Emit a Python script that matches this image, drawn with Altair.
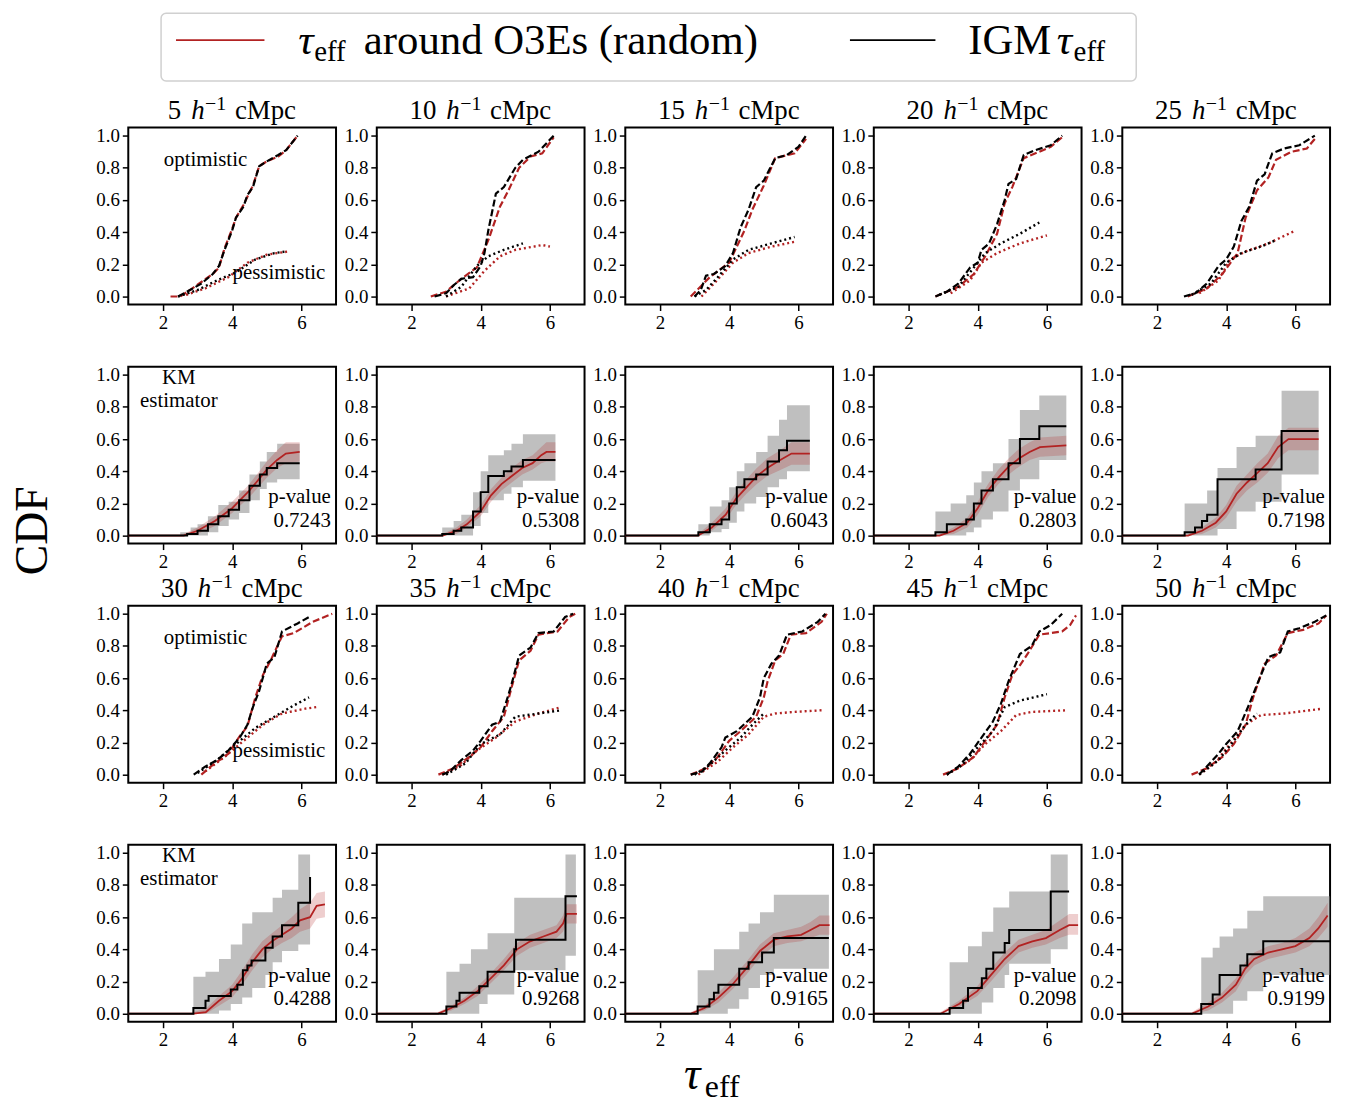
#!/usr/bin/env python3
"""CDFs of tau_eff around O3Es vs the IGM, 10 separations
"""
import altair as alt
import pandas as pd

FONT = 'Liberation Serif'
RED = '#b22222'
OUTPUT_FILE = 'out.html'

ROW_A = [5, 10, 15, 20, 25]
ROW_B = [30, 35, 40, 45, 50]

# optimistic (dashed) and pessimistic (dotted) CDFs, (tau_eff, CDF)
OPT_IGM = {
    5: [(2.44, 0), (2.78, .04), (3.11, .08), (3.44, .14), (3.62, .19), (3.78, .29), (4.0, .41), (4.11, .49),
        (4.33, .56), (4.44, .63), (4.6, .68), (4.78, .81), (5.0, .84), (5.33, .88), (5.56, .91), (5.89, 1.0)],
    10: [(2.67, 0), (3.0, .02), (3.22, .07), (3.44, .11), (3.78, .12), (4.0, .19), (4.11, .27), (4.22, .41),
         (4.44, .64), (4.67, .68), (5.0, .8), (5.22, .85), (5.67, .9), (6.11, 1.0)],
    15: [(3.0, 0), (3.18, .04), (3.33, .13), (3.56, .14), (3.89, .19), (4.11, .27), (4.33, .43), (4.56, .54),
         (4.78, .68), (5.0, .72), (5.33, .86), (5.67, .88), (6.0, .93), (6.22, 1.0)],
    20: [(2.78, 0), (3.11, .03), (3.44, .08), (3.78, .18), (4.0, .21), (4.11, .29), (4.33, .33), (4.56, .45),
         (4.78, .6), (4.89, .7), (5.11, .73), (5.33, .88), (5.67, .91), (6.11, .94), (6.44, 1.0)],
    25: [(2.78, 0), (3.11, .02), (3.44, .08), (3.78, .19), (4.0, .23), (4.22, .31), (4.44, .47), (4.67, .56),
         (4.89, .72), (5.11, .76), (5.33, .89), (5.67, .92), (6.11, .94), (6.56, 1.0)],
    30: [(2.89, 0), (3.22, .05), (3.56, .09), (3.89, .15), (4.22, .23), (4.44, .31), (4.6, .42), (4.78, .52),
         (5.0, .69), (5.22, .73), (5.44, .89), (5.89, .94), (6.22, .98)],
    35: [(2.89, 0), (3.11, .02), (3.44, .09), (3.78, .15), (4.0, .21), (4.33, .31), (4.56, .33), (4.78, .48),
         (4.89, .56), (5.11, .74), (5.44, .79), (5.67, .88), (6.11, .89), (6.44, .98), (6.67, 1.0)],
    40: [(2.89, 0), (3.22, .02), (3.44, .07), (3.78, .17), (3.89, .23), (4.22, .27), (4.67, .36), (4.89, .48),
         (5.0, .6), (5.22, .69), (5.44, .74), (5.67, .87), (6.11, .89), (6.56, .95), (6.78, 1.0)],
    45: [(3.11, 0), (3.44, .05), (3.78, .13), (4.11, .23), (4.44, .33), (4.67, .44), (4.89, .58), (5.22, .75),
         (5.56, .8), (5.78, .89), (6.11, .93), (6.44, 1.0)],
    50: [(3.22, 0), (3.44, .05), (3.78, .13), (4.0, .19), (4.33, .27), (4.67, .44), (4.89, .56), (5.22, .73),
         (5.56, .76), (5.78, .89), (6.11, .91), (6.56, .95), (6.89, .99)],
}
OPT_O3E = {
    5: [(2.22, 0), (2.5, 0), (2.78, .04), (3.11, .09), (3.44, .14), (3.62, .18), (3.78, .3), (4.0, .42),
        (4.11, .49), (4.33, .57), (4.44, .62), (4.6, .69), (4.78, .81), (5.0, .84), (5.33, .87), (5.56, .91),
        (5.89, 1.0)],
    10: [(2.56, 0), (3.0, .03), (3.44, .11), (3.89, .18), (4.22, .35), (4.56, .56), (4.78, .65), (5.11, .8),
         (5.44, .87), (5.78, .89), (6.11, .99)],
    15: [(2.89, 0), (3.44, .12), (4.0, .21), (4.44, .41), (4.67, .54), (5.0, .69), (5.33, .86), (5.89, .89),
         (6.22, .98)],
    20: [(2.78, 0), (3.44, .06), (3.89, .14), (4.22, .25), (4.56, .39), (4.78, .58), (5.0, .68), (5.33, .86),
         (5.67, .89), (6.11, .93), (6.44, .99)],
    25: [(2.89, 0), (3.44, .05), (3.89, .14), (4.33, .27), (4.56, .49), (4.89, .66), (5.22, .74), (5.44, .85),
         (5.89, .9), (6.33, .92), (6.56, .98)],
    30: [(3.11, 0), (3.44, .06), (3.89, .13), (4.22, .24), (4.44, .3), (4.67, .48), (4.89, .62), (5.11, .71),
         (5.44, .86), (5.78, .88), (6.33, .95), (6.89, 1.0)],
    35: [(2.78, 0), (3.22, .04), (3.67, .11), (4.0, .17), (4.33, .27), (4.67, .36), (4.89, .54), (5.11, .71),
         (5.44, .77), (5.67, .87), (6.22, .89), (6.56, .98), (6.73, 1.0)],
    40: [(2.89, 0), (3.33, .04), (3.67, .11), (4.0, .21), (4.33, .27), (4.78, .36), (5.0, .48), (5.11, .58),
         (5.33, .71), (5.56, .75), (5.78, .87), (6.22, .88), (6.67, .95), (6.82, 1.0)],
    45: [(3.0, 0), (3.44, .04), (3.89, .11), (4.22, .21), (4.56, .31), (4.78, .48), (5.0, .62), (5.22, .68),
         (5.44, .75), (5.78, .87), (6.44, .89), (6.67, .93), (6.84, .99)],
    50: [(3.0, 0), (3.44, .04), (3.89, .11), (4.22, .19), (4.56, .31), (4.78, .48), (5.11, .69), (5.44, .74),
         (5.78, .88), (6.22, .9), (6.67, .94), (6.89, .99)],
}
PES_IGM = {
    5: [(2.44, 0), (3.0, .04), (3.56, .1), (4.11, .15), (4.67, .23), (5.22, .27), (5.56, .28)],
    10: [(3.0, 0), (3.44, .06), (3.89, .19), (4.22, .25), (4.67, .29), (5.22, .33)],
    15: [(3.0, 0), (3.33, .04), (3.67, .12), (4.11, .23), (4.56, .29), (5.22, .33), (5.89, .37)],
    20: [(2.89, .01), (3.44, .06), (3.89, .18), (4.22, .27), (4.67, .33), (5.22, .39), (5.78, .46)],
    25: [(3.0, .01), (3.56, .08), (4.0, .21), (4.44, .27), (5.0, .31), (5.44, .35)],
    30: [(3.0, .01), (3.56, .09), (4.11, .19), (4.67, .29), (5.22, .36), (5.78, .43), (6.22, .48)],
    35: [(3.0, 0), (3.56, .07), (4.0, .19), (4.56, .25), (5.0, .36), (5.67, .38), (6.33, .4)],
    40: [(3.0, 0), (3.44, .06), (3.89, .15), (4.33, .23), (4.67, .31), (5.0, .38)],
    45: [(3.11, 0), (3.56, .06), (4.0, .17), (4.44, .27), (4.78, .42), (5.22, .46), (6.0, .5)],
    50: [(3.22, 0), (3.78, .09), (4.22, .21), (4.56, .31), (4.89, .38)],
}
PES_O3E = {
    5: [(2.67, .01), (3.22, .05), (3.89, .12), (4.44, .21), (5.0, .26), (5.63, .28)],
    10: [(3.0, 0), (3.67, .05), (4.11, .16), (4.56, .25), (5.0, .29), (5.78, .32), (6.0, .31)],
    15: [(3.2, 0), (3.56, .08), (4.11, .21), (4.56, .27), (5.22, .31), (5.89, .34)],
    20: [(3.22, .02), (3.78, .1), (4.11, .21), (4.56, .27), (5.22, .33), (6.0, .38)],
    25: [(3.22, .02), (3.78, .1), (4.11, .23), (4.56, .28), (5.22, .33), (6.0, .41)],
    30: [(3.22, .02), (3.78, .11), (4.33, .21), (4.89, .31), (5.44, .38), (6.11, .41), (6.44, .42)],
    35: [(2.89, 0), (3.44, .06), (3.89, .15), (4.44, .23), (5.0, .33), (5.67, .38), (6.33, .42)],
    40: [(3.11, 0), (3.67, .08), (4.11, .17), (4.56, .25), (5.0, .36), (5.33, .38), (5.89, .39), (6.67, .4)],
    45: [(3.11, 0), (3.78, .09), (4.22, .19), (4.67, .27), (5.11, .37), (5.56, .39), (6.56, .4)],
    50: [(3.22, 0), (3.67, .07), (4.11, .19), (4.56, .31), (5.0, .37), (5.67, .38), (6.78, .41)],
}

# Kaplan-Meier estimator: step (tau_eff, CDF) and bands (tau_eff, low, high)
KM_IGM = {
    5: [(1.0, 0), (2.7, .01), (3.0, .03), (3.3, .07), (3.6, .12), (3.9, .16), (4.2, .22), (4.5, .31), (4.8, .38),
        (5.0, .42), (5.3, .45), (5.95, .45)],
    10: [(1.0, 0), (2.89, .01), (3.22, .03), (3.44, .05), (3.78, .15), (4.0, .27), (4.22, .37), (4.67, .4),
         (4.89, .43), (5.22, .47), (6.16, .47)],
    15: [(1.0, 0), (3.11, .02), (3.44, .07), (3.78, .1), (4.0, .2), (4.22, .3), (4.44, .35), (4.78, .38),
         (5.11, .46), (5.44, .53), (5.67, .59), (6.33, .59)],
    20: [(1.0, 0), (2.78, .02), (3.11, .07), (3.67, .1), (3.89, .2), (4.11, .28), (4.44, .35), (4.89, .45),
         (5.22, .6), (5.78, .68), (6.56, .68)],
    25: [(1.0, 0), (2.8, .02), (3.1, .05), (3.3, .09), (3.45, .13), (3.75, .35), (4.85, .41), (5.6, .65),
         (6.67, .65)],
    30: [(1.0, 0), (2.88, .035), (3.23, .08), (3.32, .11), (3.96, .15), (4.15, .18), (4.31, .27), (4.44, .3),
         (4.56, .33), (4.96, .41), (5.17, .48), (5.44, .55), (5.91, .69), (6.25, .85)],
    35: [(1.0, 0), (3.01, .045), (3.3, .08), (3.39, .13), (3.96, .17), (4.2, .26), (4.97, .4), (5.02, .46),
         (6.45, .73), (6.78, .73)],
    40: [(1.0, 0), (3.09, .045), (3.43, .09), (3.56, .13), (3.69, .18), (4.29, .28), (4.56, .32), (4.95, .38),
         (5.29, .47), (6.88, .47)],
    45: [(1.0, 0), (3.19, .035), (3.58, .08), (3.72, .16), (4.12, .22), (4.25, .28), (4.45, .38), (4.78, .44),
         (4.91, .52), (6.11, .76), (6.64, .76)],
    50: [(1.0, 0), (3.28, .06), (3.61, .12), (3.81, .24), (4.41, .3), (4.61, .37), (5.07, .45), (7.0, .45)],
}
KM_IGM_BAND = {
    5: [(2.5, 0, .02), (2.8, 0, .05), (3.0, 0, .07), (3.3, .02, .12), (3.6, .06, .19), (3.9, .1, .21),
        (4.2, .14, .28), (4.5, .22, .38), (4.8, .29, .46), (5.0, .33, .52), (5.3, .35, .57), (5.95, .35, .57)],
    10: [(2.89, 0, .05), (3.22, 0, .09), (3.44, 0, .13), (3.78, .06, .27), (4.0, .14, .4), (4.22, .22, .5),
         (4.67, .26, .53), (4.89, .3, .57), (5.22, .34, .63), (6.16, .34, .63)],
    15: [(3.11, 0, .07), (3.44, .02, .18), (3.78, .04, .22), (4.0, .08, .3), (4.22, .15, .4), (4.44, .2, .45),
         (4.78, .24, .52), (5.11, .3, .62), (5.44, .35, .72), (5.67, .4, .81), (6.33, .4, .81)],
    20: [(2.78, 0, .15), (3.22, 0, .2), (3.67, .02, .25), (3.89, .05, .33), (4.11, .1, .4), (4.44, .15, .45),
         (4.89, .28, .6), (5.22, .35, .78), (5.78, .47, .87), (6.56, .47, .87)],
    25: [(2.8, 0, .2), (3.45, 0, .28), (3.75, .04, .42), (4.3, .15, .55), (4.85, .21, .62), (5.6, .38, .9),
         (6.67, .38, .9)],
    30: [(2.88, 0, .23), (3.23, 0, .26), (3.62, .02, .34), (3.96, .06, .43), (4.29, .1, .56), (4.58, .16, .63),
         (4.96, .24, .63), (5.17, .32, .72), (5.44, .39, .77), (5.91, .43, .99), (6.25, .43, .99)],
    35: [(3.01, 0, .26), (3.39, 0, .31), (3.72, 0, .4), (3.96, .06, .4), (4.2, .12, .5), (4.97, .27, .72),
         (6.45, .36, .99), (6.75, .36, .99)],
    40: [(3.09, 0, .27), (3.56, 0, .4), (3.96, .03, .4), (4.29, .09, .51), (4.56, .16, .56), (4.89, .24, .63),
         (5.29, .28, .74), (6.88, .28, .74)],
    45: [(3.19, 0, .32), (3.72, 0, .42), (4.12, .07, .51), (4.45, .16, .66), (4.78, .24, .66), (4.91, .31, .76),
         (6.11, .4, .99), (6.6, .4, .99)],
    50: [(3.28, 0, .35), (3.61, 0, .41), (3.81, 0, .48), (4.2, .08, .53), (4.61, .14, .64), (5.07, .24, .73),
         (7.0, .24, .73)],
}
KM_O3E = {
    5: [(1.0, 0), (2.6, 0), (3.0, .03), (3.5, .09), (4.0, .17), (4.5, .28), (5.0, .41), (5.3, .47), (5.55, .51),
        (5.95, .52)],
    10: [(1.0, 0), (2.9, 0), (3.3, .03), (3.6, .07), (4.0, .15), (4.3, .25), (4.6, .32), (4.9, .37), (5.2, .42),
         (5.5, .45), (5.75, .5), (5.9, .52), (6.16, .52)],
    15: [(1.0, 0), (3.1, 0), (3.5, .05), (3.9, .13), (4.2, .23), (4.5, .3), (4.8, .37), (5.1, .42), (5.4, .46),
         (5.8, .51), (6.33, .51)],
    20: [(1.0, 0), (2.9, 0), (3.3, .03), (3.7, .08), (4.0, .17), (4.3, .28), (4.6, .36), (4.9, .43), (5.2, .48),
         (5.5, .52), (5.8, .55), (6.56, .56)],
    25: [(1.0, 0), (2.9, 0), (3.3, .03), (3.7, .08), (4.0, .15), (4.3, .26), (4.6, .33), (4.9, .39), (5.2, .45),
         (5.5, .55), (5.8, .6), (6.67, .6)],
    30: [(1.0, 0), (2.88, 0), (3.24, .01), (3.62, .08), (4.0, .14), (4.29, .22), (4.58, .32), (4.87, .4),
         (5.15, .45), (5.44, .49), (5.72, .53), (5.96, .58), (6.25, .6), (6.44, .67), (6.68, .68)],
    35: [(1.0, 0), (2.77, 0), (3.15, .035), (3.53, .08), (3.91, .14), (4.29, .22), (4.67, .3), (5.05, .4),
         (5.43, .45), (5.81, .48), (6.19, .51), (6.38, .56), (6.48, .62), (6.78, .62)],
    40: [(1.0, 0), (2.9, 0), (3.29, .035), (3.69, .1), (4.09, .18), (4.49, .28), (4.89, .39), (5.29, .46),
         (5.68, .48), (6.08, .49), (6.35, .52), (6.61, .55), (6.9, .55)],
    45: [(1.0, 0), (2.93, 0), (3.46, .06), (3.99, .14), (4.38, .24), (4.78, .34), (5.18, .42), (5.58, .45),
         (5.97, .47), (6.37, .52), (6.64, .55), (6.9, .55)],
    50: [(1.0, 0), (3.02, 0), (3.48, .045), (3.88, .1), (4.28, .18), (4.55, .28), (4.81, .34), (5.21, .38),
         (5.61, .4), (6.0, .42), (6.4, .47), (6.66, .53), (6.93, .61)],
}
KM_O3E_BAND = {
    5: [(2.6, 0, .01), (3.0, .01, .05), (3.5, .06, .12), (4.0, .14, .21), (4.5, .24, .32), (5.0, .36, .46),
        (5.3, .42, .53), (5.55, .45, .58), (5.95, .46, .58)],
    10: [(2.9, 0, .01), (3.3, .01, .05), (3.6, .05, .1), (4.0, .12, .19), (4.3, .21, .29), (4.6, .28, .36),
         (4.9, .33, .42), (5.2, .38, .47), (5.5, .41, .5), (5.75, .45, .55), (5.9, .46, .58), (6.16, .46, .58)],
    15: [(3.1, 0, .01), (3.5, .03, .08), (3.9, .1, .17), (4.2, .19, .27), (4.5, .26, .35), (4.8, .32, .42),
         (5.1, .37, .48), (5.4, .4, .52), (5.8, .44, .58), (6.33, .44, .58)],
    20: [(2.9, 0, .01), (3.3, .01, .05), (3.7, .05, .11), (4.0, .13, .21), (4.3, .24, .32), (4.6, .32, .41),
         (4.9, .38, .48), (5.2, .43, .54), (5.5, .47, .58), (5.8, .49, .61), (6.56, .5, .62)],
    25: [(2.9, 0, .01), (3.3, .01, .05), (3.7, .05, .11), (4.0, .11, .19), (4.3, .21, .31), (4.6, .28, .38),
         (4.9, .33, .45), (5.2, .39, .51), (5.5, .48, .62), (5.8, .53, .67), (6.67, .53, .67)],
    30: [(2.88, 0, .01), (3.24, 0, .03), (3.62, .05, .11), (4.0, .1, .18), (4.29, .18, .27), (4.58, .27, .37),
         (4.87, .35, .45), (5.15, .4, .5), (5.44, .44, .55), (5.72, .47, .6), (5.96, .51, .65), (6.25, .53, .69),
         (6.44, .59, .75), (6.68, .6, .76)],
    35: [(2.77, 0, .01), (3.15, .02, .05), (3.53, .06, .1), (3.91, .11, .17), (4.29, .19, .25), (4.67, .27, .34),
         (5.05, .36, .44), (5.43, .41, .49), (5.81, .44, .52), (6.19, .47, .55), (6.38, .51, .61),
         (6.48, .56, .68), (6.78, .56, .68)],
    40: [(2.9, 0, .01), (3.29, .02, .05), (3.69, .07, .13), (4.09, .15, .22), (4.49, .24, .32), (4.89, .35, .43),
         (5.29, .42, .5), (5.68, .44, .52), (6.08, .45, .54), (6.35, .47, .57), (6.61, .49, .61), (6.9, .49, .61)],
    45: [(2.93, 0, .01), (3.46, .04, .08), (3.99, .11, .17), (4.38, .2, .28), (4.78, .3, .38), (5.18, .38, .46),
         (5.58, .41, .49), (5.97, .43, .52), (6.37, .47, .58), (6.64, .49, .62), (6.9, .49, .62)],
    50: [(3.02, 0, .01), (3.48, .02, .07), (3.88, .07, .13), (4.28, .14, .22), (4.55, .24, .32), (4.81, .3, .38),
         (5.21, .34, .42), (5.61, .36, .44), (6.0, .38, .47), (6.4, .42, .53), (6.66, .47, .6), (6.93, .54, .69)],
}
P_VALUES = {5: '0.7243', 10: '0.5308', 15: '0.6043', 20: '0.2803', 25: '0.7198',
            30: '0.4288', 35: '0.9268', 40: '0.9165', 45: '0.2098', 50: '0.9199'}

ONE = pd.DataFrame({'k': [0]})
W, H = 209, 178


def x_enc():
    return alt.X('tau:Q', scale=alt.Scale(domain=[1, 7], nice=False),
                 axis=alt.Axis(values=[2, 4, 6], format='d', title=None))


def y_enc(field):
    return alt.Y(field + ':Q', scale=alt.Scale(domain=[-0.05, 1.05], nice=False, zero=False),
                 axis=alt.Axis(values=[0, 0.2, 0.4, 0.6, 0.8, 1.0], format='.1f', title=None,
                               labelOverlap=False))


def line(points, color, dash=None, width=2.2, interp='linear'):
    kw = dict(color=color, strokeWidth=width, interpolate=interp)
    if dash:
        kw['strokeDash'] = dash
    return alt.Chart(pd.DataFrame(points, columns=['tau', 'v'])).mark_line(**kw).encode(
        x=x_enc(), y=y_enc('v'))


def band(points, color, opacity, interp):
    return alt.Chart(pd.DataFrame(points, columns=['tau', 'lo', 'hi'])).mark_area(
        color=color, opacity=opacity, interpolate=interp
    ).encode(x=x_enc(), y=y_enc('lo'), y2='hi:Q')


def note(text, tau, v, align='center', size=21):
    return alt.Chart(pd.DataFrame({'tau': [tau], 'v': [v]})).mark_text(
        text=text, font=FONT, fontSize=size, align=align, baseline='alphabetic', color='black'
    ).encode(x=x_enc(), y=y_enc('v'))


def pix_text(text, px, py, size, italic=False, align='left', angle=0, baseline='alphabetic'):
    kw = dict(text=text, font=FONT, fontSize=size, align=align, baseline=baseline, color='black')
    if italic:
        kw['fontStyle'] = 'italic'
    if angle:
        kw['angle'] = angle
    return alt.Chart(ONE).mark_text(**kw).encode(x=alt.value(px), y=alt.value(py))


def pix_rule(px1, px2, py, color):
    return alt.Chart(ONE).mark_rule(color=color, strokeWidth=2).encode(
        x=alt.value(px1), x2=alt.value(px2), y=alt.value(py))


def legend_layers():
    box = alt.Chart(ONE).mark_rect(
        fill='white', stroke='#d0d0d0', strokeWidth=1.5, cornerRadius=5
    ).encode(x=alt.value(33), x2=alt.value(1014), y=alt.value(-115), y2=alt.value(-47))
    return [
        box,
        pix_rule(48, 137, -88, RED),
        pix_text('τ', 171, -74, 43, italic=True),
        pix_text('eff', 187, -67, 29),
        pix_text('around O3Es (random)', 237, -74, 43),
        pix_rule(726, 812, -88, 'black'),
        pix_text('IGM', 845, -74, 43),
        pix_text('τ', 934, -74, 43, italic=True),
        pix_text('eff', 951, -67, 29),
    ]


def title_layers(sep):
    # "<sep> h^-1 cMpc", assembled from pieces so h is italic and -1 raised
    nd = len(str(sep))
    x0 = W / 2 - (nd * 13.5 + 116) / 2
    xh = x0 + nd * 13.5 + 10
    return [
        pix_text(str(sep), x0, -9, 27),
        pix_text('h', xh, -9, 27, italic=True),
        pix_text('−1', xh + 14, -18, 20),
        pix_text('cMpc', xh + 44, -9, 27),
    ]


def cdf_panel(sep, first, top):
    layers = [
        line(OPT_O3E[sep], RED, [7, 3]),
        line(PES_O3E[sep], RED, [2, 3], width=2.4),
        line(OPT_IGM[sep], 'black', [7, 3]),
        line(PES_IGM[sep], 'black', [2, 3], width=2.4),
    ] + title_layers(sep)
    if first:
        layers += [note('optimistic', 3.23, 0.81), note('pessimistic', 5.35, 0.11)]
    if first and top:
        layers += legend_layers()
    return alt.layer(*layers).properties(width=W, height=H)


def km_panel(sep, first, top):
    layers = [
        band(KM_IGM_BAND[sep], 'gray', 0.5, 'step-after'),
        band(KM_O3E_BAND[sep], RED, 0.22, 'linear'),
        line(KM_O3E[sep], RED, width=1.8),
        line(KM_IGM[sep], 'black', width=2, interp='step-after'),
        note('p-value', 6.85, 0.2, align='right'),
        note(P_VALUES[sep], 6.85, 0.055, align='right'),
    ]
    if first:
        layers += [note('KM', 2.46, 0.94), note('estimator', 2.46, 0.8)]
    if first and top:
        layers += [pix_text('CDF', -96, 165, 46, align='center', angle=270, baseline='middle')]
    if sep == 40:
        layers += [pix_text('τ', 59, 246, 46, italic=True), pix_text('eff', 80, 254, 32)]
    return alt.layer(*layers).properties(width=W, height=H)


panels = []
for row, top in ((ROW_A, True), (ROW_B, False)):
    panels += [cdf_panel(s, i == 0, top) for i, s in enumerate(row)]
    panels += [km_panel(s, i == 0, top) for i, s in enumerate(row)]

chart = alt.concat(
    *panels, columns=5, spacing={'row': 62.5, 'column': 41}, bounds='flush'
).properties(
    padding={'left': 1, 'top': 0, 'right': 5, 'bottom': 5}
).configure_view(
    stroke='black', strokeWidth=2
).configure_axis(
    labelFont=FONT, labelFontSize=19, labelColor='black', tickColor='black', tickWidth=1.5,
    tickSize=6, domain=False, grid=False, labelPadding=3
)

chart.save(OUTPUT_FILE, embed_options={'renderer': 'svg', 'actions': False})
